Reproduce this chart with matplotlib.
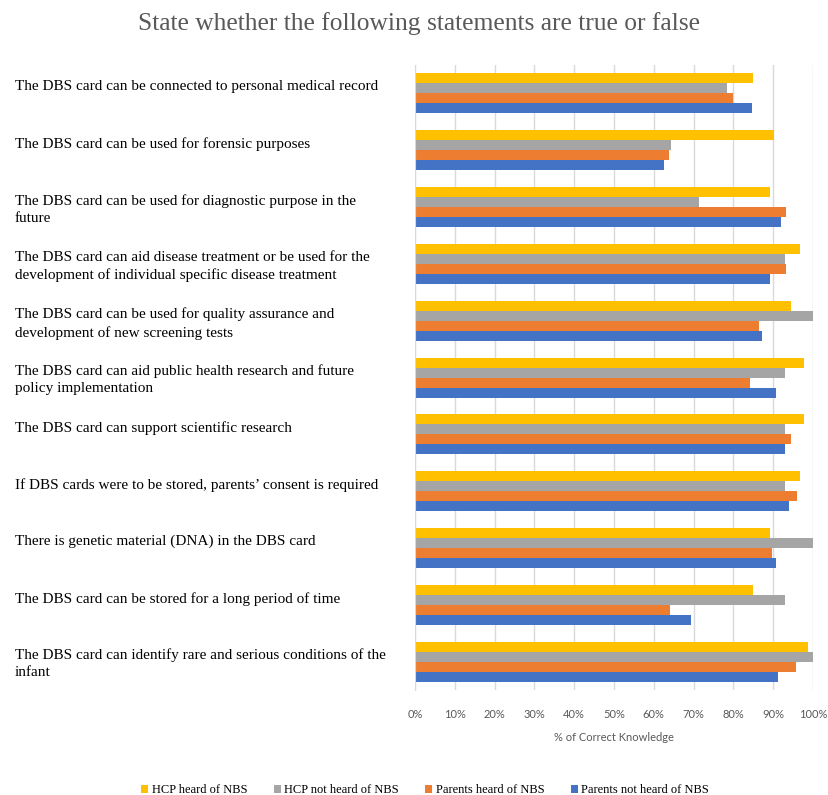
import matplotlib.pyplot as plt
import matplotlib.transforms as mtransforms
from matplotlib.patches import Patch
from matplotlib.ticker import PercentFormatter

# Statements, top to bottom as in the chart.
statements = [
    "The DBS card can be connected to personal medical record",
    "The DBS card can be used for forensic purposes",
    "The DBS card can be used for diagnostic purpose in the\nfuture",
    "The DBS card can aid disease treatment or be used for the\ndevelopment of individual specific disease treatment",
    "The DBS card can be used for quality assurance and\ndevelopment of new screening tests",
    "The DBS card can aid public health research and future\npolicy implementation",
    "The DBS card can support scientific research",
    "If DBS cards were to be stored, parents\u2019 consent is required",
    "There is genetic material (DNA) in the DBS card",
    "The DBS card can be stored for a long period of time",
    "The DBS card can identify rare and serious conditions of the\ninfant",
]

# % of correct knowledge per group.
hcp_heard = [84.8, 90.2, 89.2, 96.7, 94.5, 97.8, 97.8, 96.7, 89.2, 84.8, 98.8]
hcp_not_heard = [78.5, 64.3, 71.3, 93.0, 100.0, 93.0, 93.0, 93.0, 100.0, 93.0, 100.0]
parents_heard = [79.8, 63.7, 93.1, 93.1, 86.4, 84.2, 94.5, 96.1, 89.8, 64.1, 95.7]
parents_not_heard = [84.7, 62.6, 92.0, 89.2, 87.3, 90.7, 93.0, 93.9, 90.7, 69.3, 91.3]

series_names = ["HCP heard of NBS", "HCP not heard of NBS",
                "Parents heard of NBS", "Parents not heard of NBS"]
series_values = [hcp_heard, hcp_not_heard, parents_heard, parents_not_heard]
colors = ["#FFC000", "#A5A5A5", "#ED7D31", "#4472C4"]

SERIF = ["Liberation Serif", "DejaVu Serif"]
SANS = ["Lato", "DejaVu Sans"]

fig = plt.figure(figsize=(8.29, 7.95), dpi=100)
ax = fig.add_axes([0.5006, 0.1321, 0.4801, 0.7861])

n = len(statements)
bar_h = 0.176
for k, (vals, color) in enumerate(zip(series_values, colors)):
    offs = (k - 1.5) * bar_h
    ax.barh([i + offs for i in range(n)], vals, height=bar_h,
            color=color, edgecolor="none", zorder=2)

ax.set_xlim(0, 100)
ax.set_ylim(n - 0.5, -0.5)
ax.set_xticks(range(0, 101, 10))
ax.xaxis.set_major_formatter(PercentFormatter(decimals=0))
ax.set_yticks([])
ax.grid(axis="x", color="#D9D9D9", linewidth=1.0, zorder=0)
for side in ("top", "right", "bottom"):
    ax.spines[side].set_visible(False)
ax.spines["left"].set_color("#D9D9D9")
ax.tick_params(axis="x", length=0, pad=14, labelsize=8, labelcolor="#595959")
for lbl in ax.get_xticklabels():
    lbl.set_family(SANS)
ax.set_xlabel("% of Correct Knowledge", fontsize=8, color="#595959",
              family=SANS, labelpad=8)

# statement labels, left aligned at the figure edge
trans = mtransforms.blended_transform_factory(fig.transFigure, ax.transData)
trans = trans + mtransforms.ScaledTranslation(0, 13 / 100, fig.dpi_scale_trans)
for i, text in enumerate(statements):
    ax.text(15 / 829, i, text, transform=trans, ha="left", va="top",
            fontsize=11, family=SERIF, color="black", linespacing=1.4)

fig.text(0.506, 0.971, "State whether the following statements are true or false",
         ha="center", va="center", fontsize=18.4, family=SERIF, color="#595959")

handles = [Patch(facecolor=c, edgecolor="none") for c in colors]
fig.legend(handles, series_names, loc="center", bbox_to_anchor=(0.513, 0.006),
           ncol=4, frameon=False, handlelength=0.55, handleheight=0.55,
           handletextpad=0.3, columnspacing=2.1,
           prop={"family": SERIF, "size": 9})

fig.savefig("out.png", dpi=100)
